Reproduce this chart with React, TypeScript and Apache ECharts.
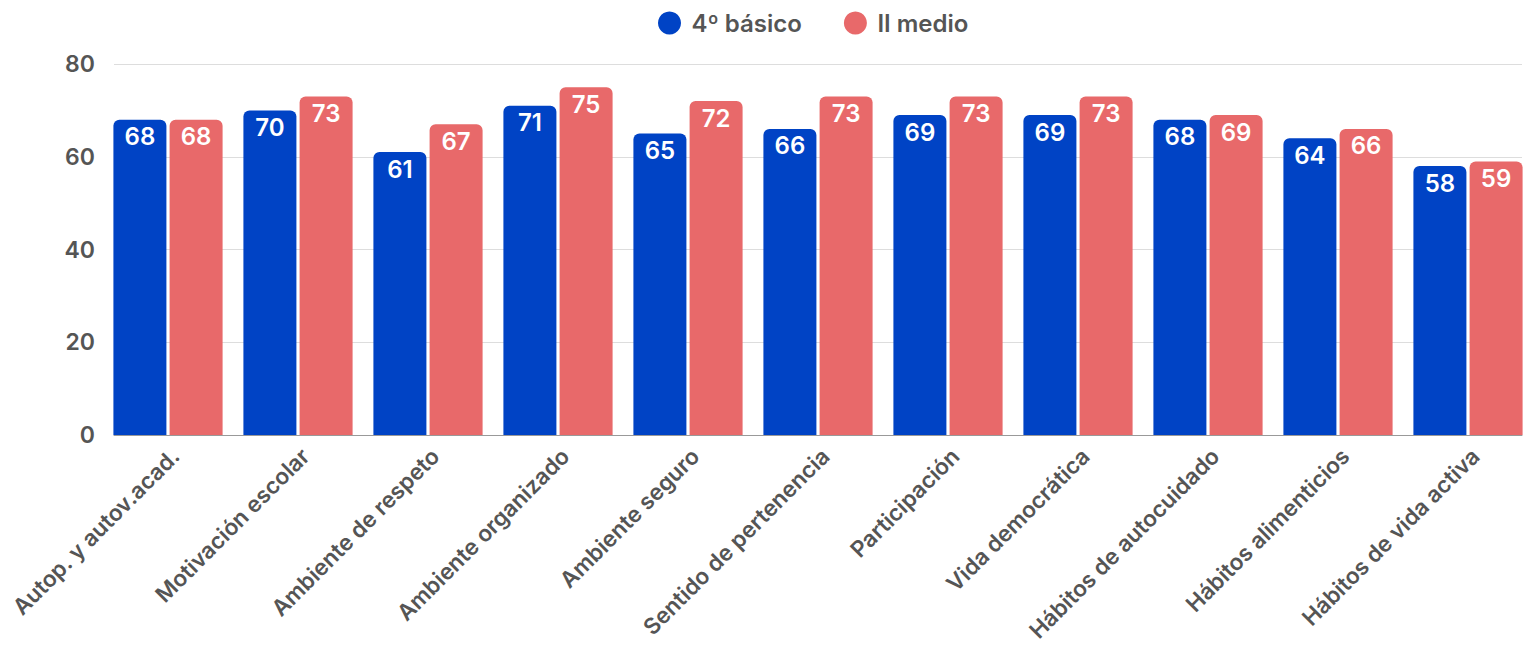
import React, { useEffect, useRef } from "react";
import * as echarts from "echarts";

const categories = [
  "Autop. y autov.acad.",
  "Motivación escolar",
  "Ambiente de respeto",
  "Ambiente organizado",
  "Ambiente seguro",
  "Sentido de pertenencia",
  "Participación",
  "Vida democrática",
  "Hábitos de autocuidado",
  "Hábitos alimenticios",
  "Hábitos de vida activa",
];
const basico4 = [68, 70, 61, 71, 65, 66, 69, 69, 68, 64, 58];
const medioII = [68, 73, 67, 75, 72, 73, 73, 73, 69, 66, 59];
const seriesNames = ["4º básico", "II medio"];
const yTicks = { min: 0, max: 80, interval: 20 };

const BLUE = "#0043C5";
const RED = "#E8696A";
const FONT = "Inter, Liberation Sans, Arial, sans-serif";
const TEXT = "#555555";
const W = 600;

export default function App() {
  const ref = useRef<HTMLDivElement>(null);
  useEffect(() => {
    if (!ref.current) return;
    const chart = echarts.init(ref.current, undefined, { renderer: "svg" });
    const label = {
      show: true,
      position: "insideTop",
      distance: 5,
      color: "#ffffff",
      fontSize: 24,
      fontWeight: W,
      fontFamily: FONT,
    };
    chart.setOption({
      animation: false,
      textStyle: { fontFamily: FONT },
      legend: {
        top: 6,
        left: 653,
        icon: "circle",
        itemWidth: 34,
        itemHeight: 23,
        itemGap: 42,
        textStyle: { fontSize: 24, fontWeight: W, color: TEXT, fontFamily: FONT },
        data: seriesNames,
      },
      grid: [
        { left: 103, right: -8, top: 64, bottom: 210, containLabel: false, outerBoundsMode: "none" },
        { left: 114, right: 3, top: 64, bottom: 210, containLabel: false, outerBoundsMode: "none" },
        { left: 110, right: -15, top: 64, bottom: 210, containLabel: false, outerBoundsMode: "none" },
      ],
      xAxis: [
        {
          type: "category",
          gridIndex: 0,
          data: categories,
          axisLine: { show: false },
          axisTick: { show: false },
          axisLabel: { show: false },
        },
        {
          type: "value",
          gridIndex: 1,
          min: 0,
          max: 1,
          axisLine: { show: true, lineStyle: { color: "#999999", width: 1 } },
          axisTick: { show: false },
          axisLabel: { show: false },
          splitLine: { show: false },
        },
        {
          type: "category",
          gridIndex: 2,
          data: categories,
          axisLine: { show: false },
          axisTick: { show: false },
          axisLabel: {
            rotate: 45,
            interval: 0,
            margin: 17,
            fontSize: 22.5,
            fontWeight: W,
            color: TEXT,
            fontFamily: FONT,
          },
        },
      ],
      yAxis: [
        {
          type: "value",
          gridIndex: 0,
          min: yTicks.min,
          max: yTicks.max,
          interval: yTicks.interval,
          show: false,
          splitLine: { show: false },
        },
        {
          type: "value",
          gridIndex: 1,
          min: yTicks.min,
          max: yTicks.max,
          interval: yTicks.interval,
          axisLine: { show: false },
          axisTick: { show: false },
          axisLabel: {
            margin: 19,
            fontSize: 23,
            fontWeight: W,
            color: TEXT,
            fontFamily: FONT,
          },
          splitLine: { show: true, lineStyle: { color: "#dddddd", width: 1 } },
        },
        {
          type: "value",
          gridIndex: 2,
          min: yTicks.min,
          max: yTicks.max,
          interval: yTicks.interval,
          show: false,
          splitLine: { show: false },
        },
      ],
      series: [
        {
          name: seriesNames[0],
          type: "bar",
          xAxisIndex: 0,
          yAxisIndex: 0,
          data: basico4,
          barWidth: 53,
          barGap: "6%",
          itemStyle: { color: BLUE, borderRadius: [6, 6, 0, 0] },
          label,
          z: 3,
        },
        {
          name: seriesNames[1],
          type: "bar",
          xAxisIndex: 0,
          yAxisIndex: 0,
          data: medioII,
          barWidth: 53,
          barGap: "6%",
          itemStyle: { color: RED, borderRadius: [6, 6, 0, 0] },
          label,
          z: 3,
        },
      ],
    });
    return () => chart.dispose();
  }, []);
  return (
    <div
      ref={ref}
      style={{ position: "absolute", left: 0, top: 0, width: 1525, height: 645 }}
    />
  );
}
